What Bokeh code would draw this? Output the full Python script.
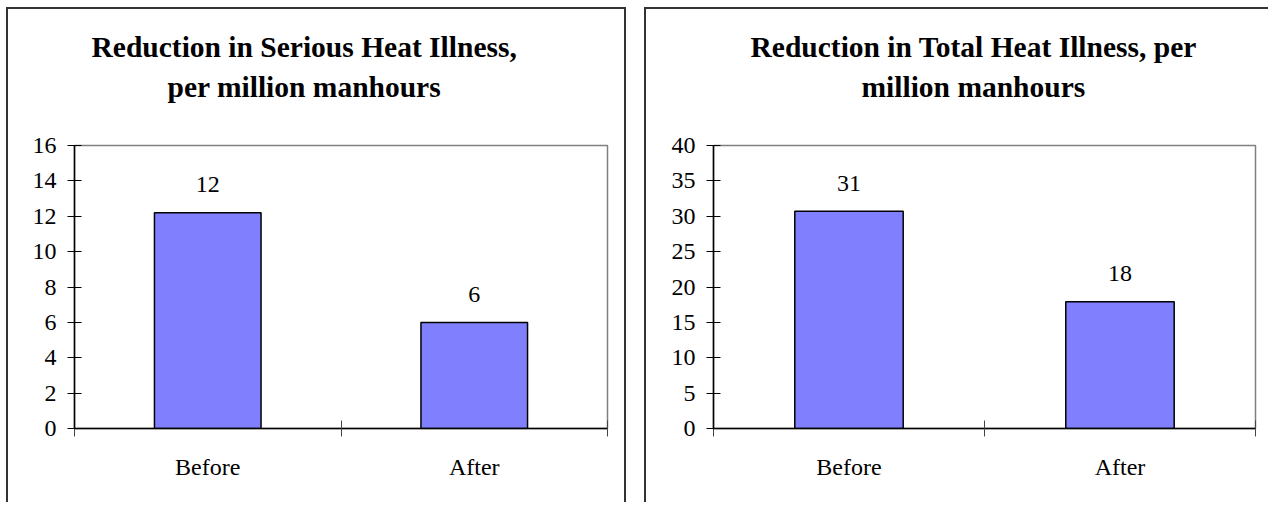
from bokeh.plotting import figure
from bokeh.models import (Range1d, LinearAxis, FixedTicker, SingleIntervalTicker,
                          Title, ColumnDataSource)
from bokeh.layouts import row
from bokeh.core.properties import value
from bokeh.embed import file_html
from bokeh.resources import INLINE
import numpy as np

# ---- data ----
categories = ["Before", "After"]
serious_values = [12.2, 6.0]
serious_labels = ["12", "6"]
total_values = [30.7, 17.9]
total_labels = ["31", "18"]
serious_title = ["Reduction in Serious Heat Illness,", "per million manhours"]
total_title = ["Reduction in Total Heat Illness, per", "million manhours"]
serious_ymax, serious_step = 16, 2
total_ymax, total_step = 40, 5

FONT = "Liberation Serif"
TICK_SIZE = "24px"
TITLE_SIZE = "29.5px"
BAR_COLOR = "#8080FF"


def make_panel(vals, labels, title_lines, ymax, step, width, mb_left, mb_right,
               styles, margin, title_offsets):
    n = len(categories)
    centers = np.arange(n) + 0.5
    p = figure(width=width, height=495, output_backend="svg", toolbar_location=None,
               x_range=Range1d(0, n), y_range=Range1d(0, ymax),
               x_axis_location=None, y_axis_location=None,
               min_border_left=mb_left, min_border_right=mb_right,
               min_border_top=136, min_border_bottom=76)
    p.styles = styles
    p.margin = margin
    p.background_fill_color = "white"
    p.border_fill_color = "white"
    p.grid.visible = False
    p.outline_line_color = "#808080"
    p.outline_line_width = 1.5

    src = ColumnDataSource(dict(x=centers, top=vals, label=labels))
    p.vbar(x="x", top="top", width=0.4, bottom=0, source=src,
           fill_color=BAR_COLOR, line_color="black", line_width=1.5)
    p.text(x="x", y="top", text="label", source=src, y_offset=-28,
           text_align="center", text_baseline="alphabetic",
           text_font=value(FONT), text_font_size=TICK_SIZE, text_color="black")

    # y axis
    yax = LinearAxis(ticker=SingleIntervalTicker(interval=step, num_minor_ticks=0))
    yax.major_tick_in = 7
    yax.major_tick_out = 7
    yax.minor_tick_line_color = None
    yax.axis_line_color = "black"
    yax.axis_line_width = 1.5
    yax.major_tick_line_color = "black"
    yax.major_label_text_font = FONT
    yax.major_label_text_font_size = TICK_SIZE
    yax.major_label_text_color = "black"
    yax.major_label_standoff = 11
    p.add_layout(yax, "left")

    # x axis with ticks at category boundaries
    xa = LinearAxis(ticker=FixedTicker(ticks=list(np.arange(n + 1))))
    xa.major_tick_in = 8
    xa.major_tick_out = 8
    xa.minor_tick_line_color = None
    xa.axis_line_color = "black"
    xa.axis_line_width = 1.5
    xa.major_tick_line_color = "#444444"
    xa.major_label_text_font_size = "0px"
    xa.major_label_text_color = None
    xa.major_label_standoff = 0
    p.add_layout(xa, "below")

    # x axis carrying the category names
    xb = LinearAxis(ticker=FixedTicker(ticks=list(centers)))
    xb.major_label_overrides = {float(c): cat for c, cat in zip(centers, categories)}
    xb.axis_line_color = None
    xb.major_tick_line_color = None
    xb.minor_tick_line_color = None
    xb.major_tick_in = 0
    xb.major_tick_out = 0
    xb.major_label_text_font = FONT
    xb.major_label_text_font_size = TICK_SIZE
    xb.major_label_text_color = "black"
    xb.major_label_standoff = 17
    p.add_layout(xb, "below")

    # two-line chart title; a blank spacer title keeps it clear of the frame
    spacer = Title(text=" ", text_font=FONT, text_font_size=TITLE_SIZE,
                   text_color="white", standoff=6)
    t2 = Title(text=title_lines[1], align="left", offset=title_offsets[1],
               text_font=FONT, text_font_size=TITLE_SIZE, text_font_style="bold",
               text_color="black", standoff=6)
    t1 = Title(text=title_lines[0], align="left", offset=title_offsets[0],
               text_font=FONT, text_font_size=TITLE_SIZE, text_font_style="bold",
               text_color="black", standoff=6)
    p.add_layout(spacer, "above")
    p.add_layout(t2, "above")
    p.add_layout(t1, "above")
    return p


border = "2px solid #333333"
p1 = make_panel(serious_values, serious_labels, serious_title, serious_ymax, serious_step,
                620, 66, 21,
                {"border-top": border, "border-left": border, "border-right": border,
                 "box-sizing": "border-box"},
                (7, 0, 0, 6), (17, 93))
p2 = make_panel(total_values, total_labels, total_title, total_ymax, total_step,
                624, 67, 15,
                {"border-top": border, "border-left": border,
                 "box-sizing": "border-box"},
                (7, 0, 0, 0), (37, 148))

layout = row(p1, p2, spacing=18)
open("out.html", "w").write(file_html(layout, INLINE))
